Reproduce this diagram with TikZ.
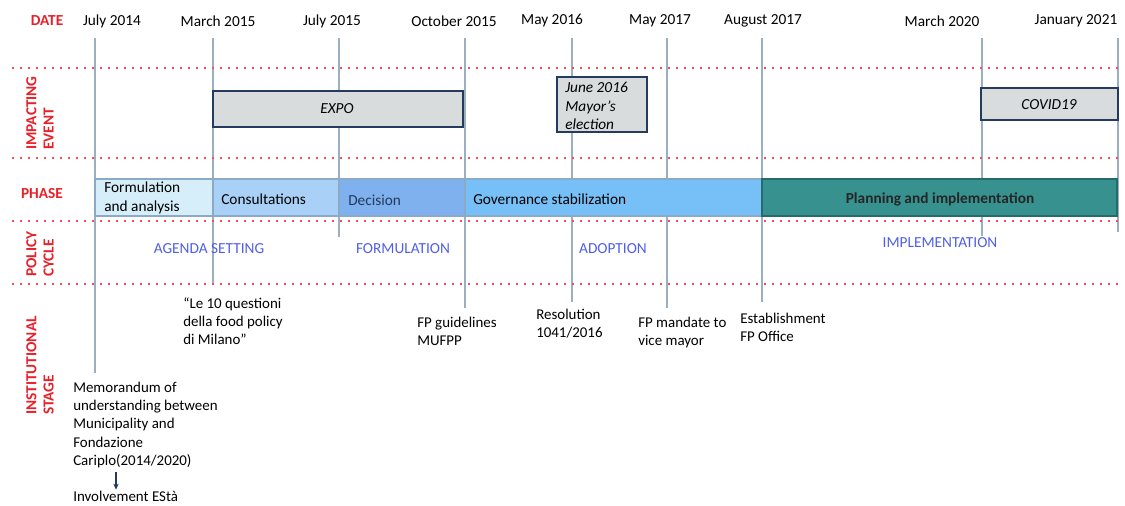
\documentclass[tikz,border=0pt]{standalone}
\usepackage{fontspec}
\setmainfont{Carlito}
\usetikzlibrary{arrows.meta}

\definecolor{rowred}{HTML}{E8202A}
\definecolor{dotred}{HTML}{FF4A55}
\definecolor{cycleblue}{HTML}{4F5FE6}
\definecolor{tickgray}{HTML}{9AAFC0}
\definecolor{boxnavy}{HTML}{243A5E}
\definecolor{boxgray}{HTML}{D9DCDC}
\definecolor{phaseA}{HTML}{D5EEF9}
\definecolor{phaseB}{HTML}{A9D1F7}
\definecolor{phaseC}{HTML}{7EB1EE}
\definecolor{phaseD}{HTML}{77BFF7}
\definecolor{phaseE}{HTML}{36918F}
\definecolor{phaseline}{HTML}{8AAAC6}
\definecolor{phaseEline}{HTML}{256B6B}

\tikzset{
    rowlabel/.style={font=\fontsize{11.5}{13}\selectfont\bfseries, text=rowred, inner sep=0pt},
    sidelabel/.style={rowlabel, rotate=90, align=left, anchor=west},
    datelabel/.style={font=\fontsize{11.5}{13}\selectfont, inner sep=0pt},
    cyclelabel/.style={font=\fontsize{11.5}{13}\selectfont, text=cycleblue, inner sep=0pt},
    phasetext/.style={font=\fontsize{11.5}{14}\selectfont, inner sep=0pt, align=left},
    stagetext/.style={font=\fontsize{11.2}{13.6}\selectfont, inner sep=0pt, align=left, anchor=north west},
    eventtext/.style={font=\fontsize{11.5}{14}\selectfont\itshape, inner sep=0pt, align=left},
    tick/.style={tickgray, line width=1pt},
    rowsep/.style={dotred, line width=1.4pt, dash pattern=on 1.4pt off 4.6pt},
}

\begin{document}
\begin{tikzpicture}[x=0.75pt,y=-0.75pt]
    \useasboundingbox (0,0) rectangle (1125,506);

    % Date row
    \node[rowlabel] (date) at (47,21) {DATE};
    \foreach \x/\d in {112/July 2014, 218/March 2015, 332/July 2015, 454/October 2015,
                       552/May 2016, 660/May 2017, 763/August 2017, 942/March 2020,
                       1076/January 2021} {
        \node[datelabel] (d\x) at (\x,21) {\d};
    }

    % Date lines
    \foreach \x/\yend in {95/373, 213/284, 339/237, 465/308, 572/302, 667/308,
                          762/302, 982/236, 1118/232} {
        \draw[tick] (\x,38) -- (\x,\yend);
    }

    % Row separators
    \foreach \y in {68,158,221,284} {
        \draw[rowsep] (12,\y) -- (1118,\y);
    }

    % Side labels
    \node[sidelabel] (impact) at (40,150) {IMPACTING\\EVENT};
    \node[rowlabel] (phase) at (42,194) {PHASE};
    \node[sidelabel] (cycle) at (40,277) {POLICY\\CYCLE};
    \node[sidelabel] (stage) at (40,415) {INSTITUTIONAL\\STAGE};

    % Impacting events
    \filldraw[fill=boxgray, draw=boxnavy, line width=1.2pt] (213,91) rectangle (463,127);
    \node[eventtext] (expo) at (337,109) {EXPO};
    \filldraw[fill=boxgray, draw=boxnavy, line width=1.2pt] (557,77) rectangle (647,132);
    \node[eventtext, anchor=north west] (mayor) at (565,82) {June 2016\\Mayor’s\\election};
    \filldraw[fill=boxgray, draw=boxnavy, line width=1.2pt] (981,88) rectangle (1118,120);
    \node[eventtext] (covid) at (1049,105) {COVID19};

    % Phases
    \filldraw[fill=phaseA, draw=phaseline, line width=0.9pt] (95,179) rectangle (213,216);
    \filldraw[fill=phaseB, draw=phaseline, line width=0.9pt] (213,179) rectangle (339,216);
    \filldraw[fill=phaseC, draw=phaseline, line width=0.9pt] (339,179) rectangle (465,216);
    \filldraw[fill=phaseD, draw=phaseline, line width=0.9pt] (465,179) rectangle (762,216);
    \filldraw[fill=phaseE, draw=phaseEline, line width=0.9pt] (762,179) rectangle (1117,216);
    \node[phasetext, anchor=west] (formulation) at (104,198) {Formulation\\and analysis};
    \node[phasetext, anchor=west] (consult) at (221,199) {Consultations};
    \node[phasetext, anchor=west, text=boxnavy] (decision) at (348,200) {Decision};
    \node[phasetext, anchor=west] (governance) at (473,199) {Governance stabilization};
    \node[phasetext, font=\fontsize{11.5}{14}\selectfont\bfseries, text=black!85] (planning) at (940,199) {Planning and implementation};

    % Policy cycle
    \node[cyclelabel] (agenda) at (209,249) {AGENDA SETTING};
    \node[cyclelabel] (formul) at (403,249) {FORMULATION};
    \node[cyclelabel] (adopt) at (613,249) {ADOPTION};
    \node[cyclelabel] (implem) at (940,243) {IMPLEMENTATION};

    % Institutional stage
    \node[stagetext] (questioni) at (183,297) {“Le 10 questioni\\della food policy\\di Milano”};
    \node[stagetext] (guidelines) at (417,317) {FP guidelines\\MUFPP};
    \node[stagetext] (resolution) at (536,309) {Resolution\\1041/2016};
    \node[stagetext] (mandate) at (638,317) {FP mandate to\\vice mayor};
    \node[stagetext] (office) at (740,313) {Establishment\\FP Office};
    \node[stagetext] (mou) at (73,382) {Memorandum of\\understanding between\\Municipality and\\Fondazione\\Cariplo(2014/2020)};
    \node[stagetext] (esta) at (73,491) {Involvement EStà};
    \coordinate (arrowx) at (116,0);
    \draw[boxnavy, line width=0.8pt, -{Stealth[length=4.5pt,width=4pt]}, shorten <=3pt, shorten >=1pt]
        (mou.south -| arrowx) -- (esta.north -| arrowx);
\end{tikzpicture}
\end{document}
